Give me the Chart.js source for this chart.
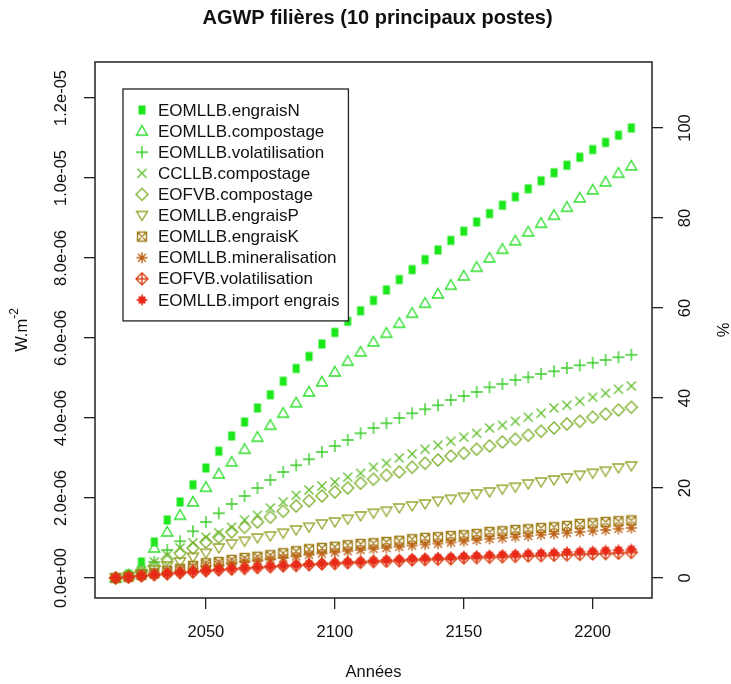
<!DOCTYPE html>
<html>
<head>
<meta charset="utf-8">
<script src="https://cdn.jsdelivr.net/npm/chart.js@4.4.1/dist/chart.umd.min.js"></script>
<style>
body { margin: 0; background: #fff; }
</style>
</head>
<body>
<canvas id="myChart" width="731" height="684"></canvas>
<script>
// années (axe x)
var annees = [2015, 2020, 2025, 2030, 2035, 2040, 2045, 2050, 2055, 2060, 2065, 2070, 2075, 2080, 2085, 2090, 2095, 2100, 2105, 2110, 2115, 2120, 2125, 2130, 2135, 2140, 2145, 2150, 2155, 2160, 2165, 2170, 2175, 2180, 2185, 2190, 2195, 2200, 2205, 2210, 2215];

// valeurs en 1e-06 W.m-2
var engraisN = [0, 0.1, 0.4, 0.9, 1.45, 1.9, 2.33, 2.75, 3.17, 3.55, 3.9, 4.25, 4.58, 4.92, 5.24, 5.54, 5.85, 6.14, 6.42, 6.68, 6.94, 7.2, 7.46, 7.71, 7.96, 8.2, 8.44, 8.67, 8.9, 9.11, 9.32, 9.53, 9.73, 9.93, 10.13, 10.32, 10.52, 10.71, 10.89, 11.07, 11.25];
var compostage = [0, 0.08, 0.28, 0.75, 1.15, 1.57, 1.9, 2.27, 2.6, 2.9, 3.22, 3.52, 3.82, 4.12, 4.38, 4.65, 4.9, 5.15, 5.42, 5.65, 5.9, 6.12, 6.37, 6.62, 6.87, 7.1, 7.32, 7.55, 7.77, 8.0, 8.22, 8.43, 8.65, 8.87, 9.07, 9.27, 9.5, 9.7, 9.9, 10.12, 10.3];
var volatilisation = [0, 0.05, 0.2, 0.4, 0.7, 0.92, 1.17, 1.4, 1.62, 1.85, 2.05, 2.25, 2.45, 2.65, 2.82, 2.97, 3.15, 3.3, 3.45, 3.62, 3.75, 3.87, 4.0, 4.12, 4.22, 4.32, 4.45, 4.55, 4.65, 4.77, 4.85, 4.95, 5.02, 5.1, 5.17, 5.25, 5.32, 5.38, 5.45, 5.52, 5.58];
var ccllbCompostage = [0, 0.05, 0.18, 0.4, 0.57, 0.75, 0.88, 1.02, 1.13, 1.27, 1.45, 1.57, 1.75, 1.9, 2.07, 2.2, 2.3, 2.4, 2.52, 2.62, 2.77, 2.87, 3.0, 3.1, 3.22, 3.32, 3.42, 3.52, 3.62, 3.75, 3.82, 3.92, 4.02, 4.12, 4.25, 4.32, 4.42, 4.52, 4.62, 4.72, 4.8];
var eofvbCompostage = [0, 0.05, 0.15, 0.3, 0.47, 0.62, 0.75, 0.9, 1.02, 1.15, 1.27, 1.4, 1.52, 1.67, 1.8, 1.93, 2.05, 2.15, 2.25, 2.37, 2.47, 2.57, 2.65, 2.77, 2.87, 2.95, 3.05, 3.12, 3.22, 3.3, 3.4, 3.47, 3.57, 3.67, 3.75, 3.85, 3.92, 4.02, 4.1, 4.2, 4.27];
var engraisP = [0, 0.03, 0.1, 0.2, 0.3, 0.4, 0.52, 0.62, 0.75, 0.85, 0.92, 1.0, 1.05, 1.12, 1.2, 1.27, 1.35, 1.4, 1.47, 1.55, 1.62, 1.67, 1.75, 1.8, 1.85, 1.92, 1.97, 2.02, 2.1, 2.15, 2.22, 2.27, 2.35, 2.4, 2.45, 2.5, 2.57, 2.62, 2.67, 2.75, 2.8];
var engraisK = [0, 0.03, 0.08, 0.12, 0.18, 0.23, 0.3, 0.37, 0.4, 0.45, 0.5, 0.53, 0.57, 0.62, 0.67, 0.72, 0.75, 0.78, 0.82, 0.85, 0.87, 0.9, 0.93, 0.97, 1.0, 1.02, 1.05, 1.07, 1.1, 1.15, 1.17, 1.2, 1.22, 1.25, 1.27, 1.3, 1.35, 1.37, 1.4, 1.42, 1.44];
var mineralisation = [0, 0.02, 0.06, 0.1, 0.14, 0.18, 0.24, 0.3, 0.33, 0.37, 0.41, 0.44, 0.47, 0.5, 0.54, 0.58, 0.61, 0.64, 0.67, 0.7, 0.73, 0.75, 0.78, 0.81, 0.84, 0.86, 0.89, 0.92, 0.95, 0.98, 1.0, 1.03, 1.05, 1.08, 1.1, 1.13, 1.15, 1.18, 1.2, 1.23, 1.25];
var eofvbVolatilisation = [0, 0.02, 0.05, 0.08, 0.1, 0.13, 0.15, 0.18, 0.2, 0.22, 0.24, 0.26, 0.28, 0.3, 0.31, 0.33, 0.35, 0.36, 0.38, 0.39, 0.41, 0.42, 0.43, 0.45, 0.46, 0.47, 0.48, 0.5, 0.51, 0.52, 0.53, 0.54, 0.55, 0.56, 0.57, 0.58, 0.59, 0.6, 0.61, 0.62, 0.64];
var importEngrais = [0, 0.02, 0.05, 0.08, 0.11, 0.13, 0.16, 0.18, 0.21, 0.23, 0.25, 0.27, 0.29, 0.31, 0.33, 0.35, 0.36, 0.38, 0.4, 0.41, 0.43, 0.45, 0.46, 0.48, 0.49, 0.51, 0.52, 0.54, 0.55, 0.57, 0.58, 0.59, 0.61, 0.62, 0.63, 0.65, 0.66, 0.67, 0.69, 0.7, 0.72];

var noms = ['EOMLLB.engraisN', 'EOMLLB.compostage', 'EOMLLB.volatilisation', 'CCLLB.compostage', 'EOFVB.compostage', 'EOMLLB.engraisP', 'EOMLLB.engraisK', 'EOMLLB.mineralisation', 'EOFVB.volatilisation', 'EOMLLB.import engrais'];
var series = [engraisN, compostage, volatilisation, ccllbCompostage, eofvbCompostage, engraisP, engraisK, mineralisation, eofvbVolatilisation, importEngrais];
var couleurs = ['#1BE81B', '#30E030', '#3ACD28', '#62C030', '#80B030', '#98A52E', '#A0801C', '#BE6418', '#DA4418', '#E82A18'];
var pchs = [15, 2, 3, 4, 5, 6, 7, 8, 9, 10];

// graduations
var xTicks = [2050, 2100, 2150, 2200];
var yTicks = [0, 2, 4, 6, 8, 10, 12];
var yTickLabels = ['0.0e+00', '2.0e-06', '4.0e-06', '6.0e-06', '8.0e-06', '1.0e-05', '1.2e-05'];
var pctTicks = [0, 20, 40, 60, 80, 100];

var yMin = -0.5, yMax = 12.9;
var ref100 = engraisN[engraisN.length - 1];
var police = "'Liberation Sans', Arial, sans-serif";

// symboles façon R
function symbole(pch, couleur) {
    var c = document.createElement('canvas');
    c.width = 18;
    c.height = 18;
    var g = c.getContext('2d');
    var m = 9;
    g.strokeStyle = couleur;
    g.fillStyle = couleur;
    g.lineWidth = 1.4;
    g.beginPath();
    if (pch == 15) {
        g.fillRect(m - 3.5, m - 4.5, 7, 9);
    } else if (pch == 2) {
        g.moveTo(m, m - 5.5); g.lineTo(m + 5.5, m + 4); g.lineTo(m - 5.5, m + 4); g.closePath();
    } else if (pch == 3) {
        g.moveTo(m - 6, m); g.lineTo(m + 6, m); g.moveTo(m, m - 6); g.lineTo(m, m + 6);
    } else if (pch == 4) {
        g.moveTo(m - 4.5, m - 4.5); g.lineTo(m + 4.5, m + 4.5); g.moveTo(m + 4.5, m - 4.5); g.lineTo(m - 4.5, m + 4.5);
    } else if (pch == 5) {
        g.moveTo(m, m - 6); g.lineTo(m + 6, m); g.lineTo(m, m + 6); g.lineTo(m - 6, m); g.closePath();
    } else if (pch == 6) {
        g.moveTo(m, m + 5); g.lineTo(m + 5.5, m - 4); g.lineTo(m - 5.5, m - 4); g.closePath();
    } else if (pch == 7) {
        g.rect(m - 4.5, m - 4.5, 9, 9);
        g.moveTo(m - 4.5, m - 4.5); g.lineTo(m + 4.5, m + 4.5); g.moveTo(m + 4.5, m - 4.5); g.lineTo(m - 4.5, m + 4.5);
    } else if (pch == 8) {
        g.moveTo(m - 5.5, m); g.lineTo(m + 5.5, m); g.moveTo(m, m - 5.5); g.lineTo(m, m + 5.5);
        g.moveTo(m - 4, m - 4); g.lineTo(m + 4, m + 4); g.moveTo(m + 4, m - 4); g.lineTo(m - 4, m + 4);
    } else if (pch == 9) {
        g.moveTo(m, m - 6); g.lineTo(m + 6, m); g.lineTo(m, m + 6); g.lineTo(m - 6, m); g.closePath();
        g.moveTo(m - 6, m); g.lineTo(m + 6, m); g.moveTo(m, m - 6); g.lineTo(m, m + 6);
    } else if (pch == 10) {
        g.fillRect(m - 3.5, m - 3.5, 7, 7);
        g.moveTo(m - 5.5, m); g.lineTo(m + 5.5, m); g.moveTo(m, m - 5.5); g.lineTo(m, m + 5.5);
    }
    g.stroke();
    return c;
}

var images = pchs.map(function (p, i) { return symbole(p, couleurs[i]); });

function texteVertical(ctx, txt, x, y) {
    ctx.save();
    ctx.translate(x, y);
    ctx.rotate(-Math.PI / 2);
    ctx.fillText(txt, 0, 0);
    ctx.restore();
}

var habillage = {
    id: 'habillage',
    afterDatasetsDraw: function (chart) {
        var ctx = chart.ctx;
        var a = chart.chartArea;
        ctx.save();
        // légende
        ctx.font = '17px ' + police;
        var maxW = 0;
        noms.forEach(function (n) { maxW = Math.max(maxW, ctx.measureText(n).width); });
        var lx = a.left + 28, ly = a.top + 27;
        var tx = lx + 35;
        var lw = tx - lx + maxW + 9, pas = 21.1;
        var lh = 21 * 2 + pas * 9;
        ctx.fillStyle = '#fff';
        ctx.fillRect(lx, ly, lw, lh);
        ctx.strokeStyle = '#222';
        ctx.lineWidth = 1.3;
        ctx.strokeRect(lx, ly, lw, lh);
        ctx.fillStyle = '#111';
        ctx.textAlign = 'left';
        ctx.textBaseline = 'middle';
        noms.forEach(function (n, i) {
            var yy = ly + 21 + i * pas;
            ctx.drawImage(images[i], lx + 19 - 9, yy - 9);
            ctx.fillText(n, tx, yy + 1);
        });
        ctx.restore();
    },
    afterDraw: function (chart) {
        var ctx = chart.ctx;
        var a = chart.chartArea;
        var sx = chart.scales.x, sy = chart.scales.y, sp = chart.scales.y2;
        ctx.save();
        ctx.strokeStyle = '#222';
        ctx.lineWidth = 1.5;
        ctx.strokeRect(a.left, a.top, a.right - a.left, a.bottom - a.top);

        ctx.fillStyle = '#111';
        ctx.font = '16.5px ' + police;
        ctx.textAlign = 'center';
        ctx.textBaseline = 'middle';
        sx.ticks.forEach(function (t) {
            ctx.fillText(String(t.value), sx.getPixelForValue(t.value), a.bottom + 34);
        });
        sy.ticks.forEach(function (t, i) {
            texteVertical(ctx, yTickLabels[i], a.left - 34, sy.getPixelForValue(t.value));
        });
        sp.ticks.forEach(function (t) {
            texteVertical(ctx, String(t.value), a.right + 33, sp.getPixelForValue(t.value));
        });

        // titres des axes
        ctx.fillText('Années', (a.left + a.right) / 2, a.bottom + 74);
        texteVertical(ctx, '%', a.right + 72, (a.top + a.bottom) / 2);
        ctx.save();
        ctx.translate(a.left - 73, (a.top + a.bottom) / 2);
        ctx.rotate(-Math.PI / 2);
        var w1 = ctx.measureText('W.m').width;
        ctx.font = '12px ' + police;
        var w2 = ctx.measureText('-2').width;
        ctx.textAlign = 'left';
        ctx.font = '16.5px ' + police;
        ctx.fillText('W.m', -(w1 + w2) / 2, 0);
        ctx.font = '12px ' + police;
        ctx.fillText('-2', -(w1 + w2) / 2 + w1, -7);
        ctx.restore();

        ctx.font = 'bold 20px ' + police;
        ctx.fillText('AGWP filières (10 principaux postes)', (a.left + a.right) / 2 + 4, 18);
        ctx.restore();
    }
};

var graduation = { drawOnChartArea: false, drawTicks: true, tickLength: 11, color: '#222', lineWidth: 1.3 };

new Chart(document.getElementById('myChart'), {
    type: 'scatter',
    data: {
        datasets: series.map(function (s, i) {
            return {
                label: noms[i],
                data: s.map(function (v, k) { return { x: annees[k], y: v }; }),
                pointStyle: images[i],
                pointRadius: 6,
                showLine: false,
                order: -i
            };
        })
    },
    options: {
        responsive: false,
        animation: false,
        layout: { padding: { top: 62, left: 0, right: 0, bottom: 0 } },
        plugins: {
            legend: { display: false },
            title: { display: false },
            tooltip: { enabled: false }
        },
        scales: {
            x: {
                type: 'linear',
                min: 2007,
                max: 2223,
                afterBuildTicks: function (s) { s.ticks = xTicks.map(function (v) { return { value: v }; }); },
                afterFit: function (s) { s.height = 86; },
                ticks: { display: false },
                grid: graduation,
                border: { display: false }
            },
            y: {
                position: 'left',
                min: yMin,
                max: yMax,
                afterBuildTicks: function (s) { s.ticks = yTicks.map(function (v) { return { value: v }; }); },
                afterFit: function (s) { s.width = 95; },
                ticks: { display: false },
                grid: graduation,
                border: { display: false }
            },
            y2: {
                position: 'right',
                min: yMin / ref100 * 100,
                max: yMax / ref100 * 100,
                afterBuildTicks: function (s) { s.ticks = pctTicks.map(function (v) { return { value: v }; }); },
                afterFit: function (s) { s.width = 79; },
                ticks: { display: false },
                grid: graduation,
                border: { display: false }
            }
        }
    },
    plugins: [habillage]
});
</script>
</body>
</html>
